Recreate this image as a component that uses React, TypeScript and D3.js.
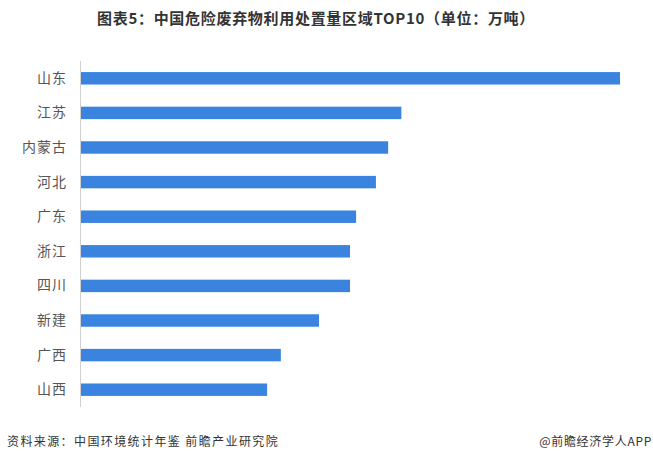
import React, { useEffect, useRef } from "react";
import * as d3 from "d3";

// 区域（从上到下）
const regions = ["山东", "江苏", "内蒙古", "河北", "广东", "浙江", "四川", "新建", "广西", "山西"];
// 利用处置量（万吨）
const amounts = [1060, 630, 604, 580, 541, 529, 529, 468, 393, 366];

const title = "图表5：中国危险废弃物利用处置量区域TOP10（单位：万吨）";
const sourceText = "资料来源：中国环境统计年鉴 前瞻产业研究院";
const brandText = "@前瞻经济学人APP";

export default function App() {
  const ref = useRef<SVGSVGElement>(null);
  const width = 653;
  const height = 462;
  const marginLeft = 80;
  const marginTop = 61;
  const marginBottom = 55;
  const barEnd = 620;
  const font = "'Noto Sans CJK SC', 'Noto Sans', sans-serif";

  useEffect(() => {
    const svg = d3.select(ref.current);
    svg.selectAll("*").remove();

    const data = regions.map((r, i) => ({ region: r, value: amounts[i] }));

    const x = d3
      .scaleLinear()
      .domain([0, d3.max(amounts) as number])
      .range([marginLeft + 1, barEnd]);

    const y = d3
      .scaleBand()
      .domain(regions)
      .range([marginTop, height - marginBottom])
      .paddingInner(0.64)
      .paddingOuter(0.32);

    // title
    svg
      .append("text")
      .attr("x", 316)
      .attr("y", 24)
      .attr("text-anchor", "middle")
      .attr("font-family", font)
      .attr("font-size", 15)
      .attr("letter-spacing", 0.7)
      .attr("font-weight", "bold")
      .attr("fill", "#333")
      .text(title);

    // bars
    svg
      .append("g")
      .selectAll("rect")
      .data(data)
      .join("rect")
      .attr("x", x(0))
      .attr("y", (d) => y(d.region) as number)
      .attr("width", (d) => x(d.value) - x(0))
      .attr("height", y.bandwidth())
      .attr("fill", "#3a84e0");

    // category axis
    const axis = svg
      .append("g")
      .attr("transform", `translate(${marginLeft},0)`)
      .call(d3.axisLeft(y).tickSize(0).tickPadding(13));
    axis.select(".domain").attr("stroke", "#d0d0d0").attr("d", `M0.5,${marginTop}V${height - marginBottom}`);
    axis
      .selectAll("text")
      .attr("font-family", font)
      .attr("font-size", 14)
      .attr("letter-spacing", 1)
      .attr("fill", "#555");

    // footer
    svg
      .append("text")
      .attr("x", 7)
      .attr("y", 446)
      .attr("font-family", font)
      .attr("font-size", 12)
      .attr("letter-spacing", 1.4)
      .attr("fill", "#333")
      .style("white-space", "pre")
      .text(sourceText);

    svg
      .append("text")
      .attr("x", 652)
      .attr("y", 446)
      .attr("text-anchor", "end")
      .attr("font-family", font)
      .attr("font-size", 12)
      .attr("letter-spacing", 0.7)
      .attr("fill", "#333")
      .text(brandText);
  }, []);

  return (
    <div style={{ position: "absolute", left: 0, top: 0 }}>
      <svg ref={ref} width={width} height={height} style={{ display: "block", background: "#fff" }}></svg>
    </div>
  );
}
